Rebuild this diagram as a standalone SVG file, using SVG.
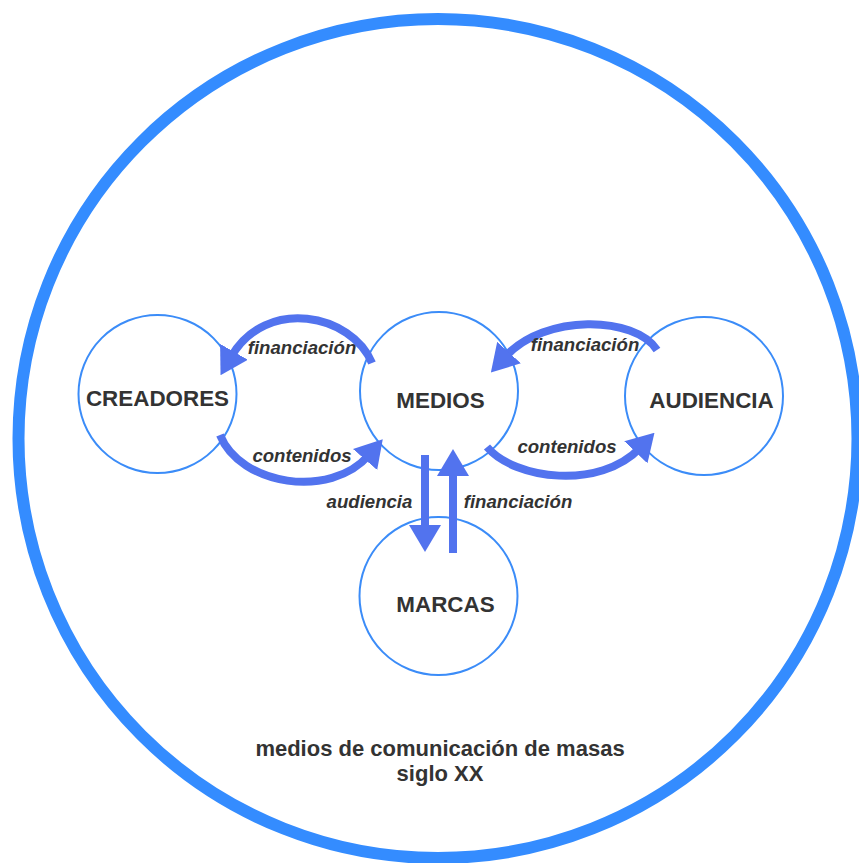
<svg xmlns="http://www.w3.org/2000/svg" width="859" height="863" viewBox="0 0 859 863">
<style>
.node{fill:#ffffff;stroke:#3b8cf8;stroke-width:2}
.name{font-family:"Liberation Sans",Arial,sans-serif;font-weight:bold;font-size:22.4px;fill:#333333;text-anchor:middle}
.lbl{font-family:"Liberation Sans",Arial,sans-serif;font-weight:bold;font-style:italic;font-size:18.6px;fill:#333333;text-anchor:middle}
.cap{font-family:"Liberation Sans",Arial,sans-serif;font-weight:bold;font-size:22px;fill:#333333;text-anchor:middle}
.arr{fill:none;stroke:#5273ee;stroke-width:8;marker-end:url(#head)}
</style>
<defs>
<marker id="head" markerUnits="userSpaceOnUse" viewBox="0 0 27 32" markerWidth="27" markerHeight="32" refX="6" refY="16" orient="auto">
<path d="M0,0 L27,16 L0,32 z" fill="#5273ee"/>
</marker>
</defs>
<rect width="859" height="863" fill="#ffffff"/>
<circle id="frame" cx="438" cy="438.5" r="419.5" fill="none" stroke="#348cff" stroke-width="12"/>
<g id="creadores"><circle class="node" cx="157.5" cy="394" r="79"/><text class="name" x="157.5" y="406">CREADORES</text></g>
<g id="medios"><circle class="node" cx="439" cy="391" r="79"/><text class="name" x="440.5" y="408">MEDIOS</text></g>
<g id="audiencia"><circle class="node" cx="704" cy="396" r="79"/><text class="name" x="711.5" y="408">AUDIENCIA</text></g>
<g id="marcas"><circle class="node" cx="438.5" cy="596" r="79"/><text class="name" x="445.5" y="612">MARCAS</text></g>
<g id="connectors">
<path class="arr" d="M372,363 C352,314 266,296 231,357"/>
<path class="arr" d="M220,435 C240,485 330,500 369,455"/>
<path class="arr" d="M657,350 C635,316 545,313 505,357"/>
<path class="arr" d="M487,447 C515,480 600,490 640,448"/>
<path class="arr" d="M425,455 L425,531"/>
<path class="arr" d="M453,553 L453,470"/>
<text class="lbl" x="302" y="354">financiación</text>
<text class="lbl" x="302" y="462">contenidos</text>
<text class="lbl" x="585" y="351">financiación</text>
<text class="lbl" x="567" y="453">contenidos</text>
<text class="lbl" x="369.5" y="508">audiencia</text>
<text class="lbl" x="518" y="508">financiación</text>
</g>
<text class="cap" x="440" y="756">medios de comunicación de masas</text>
<text class="cap" x="440" y="781">siglo XX</text>
</svg>
